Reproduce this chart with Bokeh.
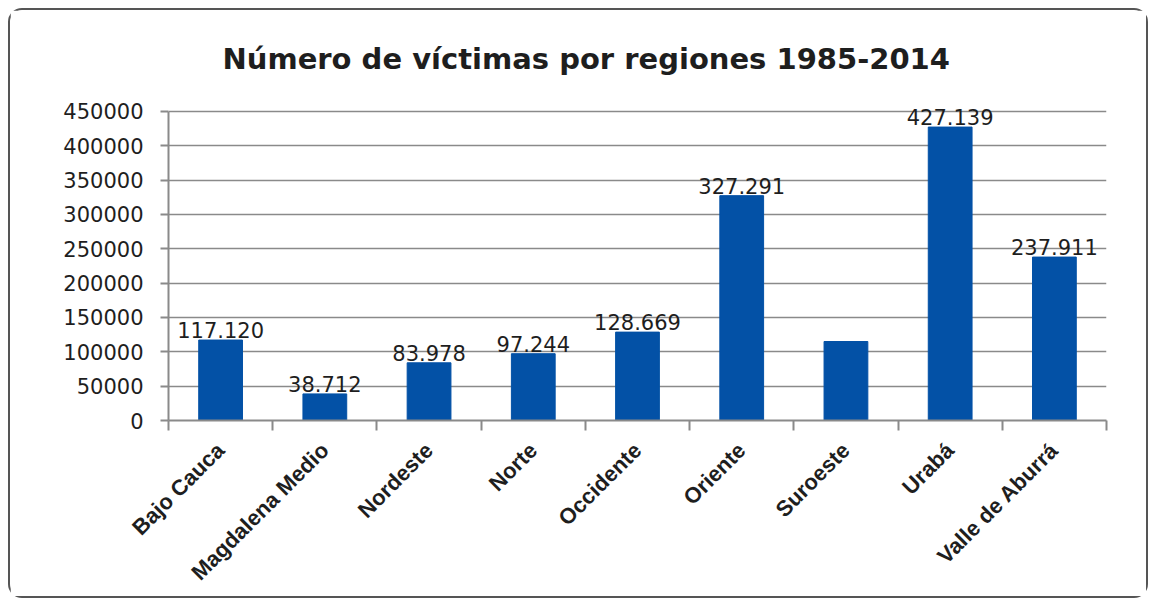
import numpy as np
from bokeh.plotting import figure
from bokeh.models import Range1d, FixedTicker, Title
from bokeh.core.properties import value
from bokeh.embed import file_html
from bokeh.resources import INLINE

title_text = "Número de víctimas por regiones 1985-2014"
categories = ["Bajo Cauca", "Magdalena Medio", "Nordeste", "Norte", "Occidente",
              "Oriente", "Suroeste", "Urabá", "Valle de Aburrá"]
victims = [117120, 38712, 83978, 97244, 128669, 327291, 115000, 427139, 237911]
value_labels = ["117.120", "38.712", "83.978", "97.244", "128.669",
                "327.291", "", "427.139", "237.911"]
y_ticks = [0, 50000, 100000, 150000, 200000, 250000, 300000, 350000, 400000, 450000]

n = len(categories)
centers = np.arange(n) + 0.5
bounds = list(np.arange(n + 1).astype(float))

GRAY = "#8a8a8a"
BAR = "#0351a6"
TXT = "#1e1e1e"

p = figure(width=1140, height=590, output_backend="svg", toolbar_location=None,
           x_range=Range1d(0, n), y_range=Range1d(0, 460000),
           min_border_left=158, min_border_right=44, min_border_top=94,
           min_border_bottom=180)
p.styles = {"border": "2px solid #555555", "border-radius": "14px",
            "box-sizing": "border-box", "margin-left": "8px", "margin-top": "8px"}

p.title = Title(text=title_text, align="left", offset=54, standoff=57,
                text_font="DejaVu Sans", text_font_size="29px",
                text_font_style="bold", text_color=TXT)

p.vbar(x=centers, top=victims, width=0.42, bottom=0, color=BAR)
p.text(x=centers, y=victims, text=value_labels, text_align="center",
       text_baseline="bottom", y_offset=-2, text_font=value("DejaVu Sans"),
       text_font_size="21px", text_color=TXT)

# y axis
p.yaxis.ticker = FixedTicker(ticks=y_ticks)
p.yaxis.bounds = (0, 450000)
p.yaxis.formatter.use_scientific = False
p.yaxis.axis_line_color = GRAY
p.yaxis.axis_line_width = 2
p.yaxis.major_tick_line_color = GRAY
p.yaxis.major_tick_line_width = 2
p.yaxis.major_tick_in = 0
p.yaxis.major_tick_out = 8
p.yaxis.minor_tick_line_color = None
p.yaxis.major_label_standoff = 17
p.yaxis.major_label_text_font = "DejaVu Sans"
p.yaxis.major_label_text_font_size = "21px"
p.yaxis.major_label_text_color = TXT

# x axis
p.xaxis.ticker = FixedTicker(ticks=list(centers), minor_ticks=bounds)
p.xaxis.major_label_overrides = {float(c): cat for c, cat in zip(centers, categories)}
p.xaxis.major_label_orientation = np.pi / 4
p.xaxis.axis_line_color = GRAY
p.xaxis.axis_line_width = 2
p.xaxis.major_tick_line_color = None
p.xaxis.minor_tick_line_color = GRAY
p.xaxis.minor_tick_line_width = 2
p.xaxis.minor_tick_in = 0
p.xaxis.minor_tick_out = 10
p.xaxis.major_label_standoff = 16
p.xaxis.major_label_text_font = "Liberation Sans"
p.xaxis.major_label_text_font_style = "bold"
p.xaxis.major_label_text_font_size = "22px"
p.xaxis.major_label_text_color = TXT

p.xgrid.grid_line_color = None
p.ygrid.ticker = FixedTicker(ticks=y_ticks)
p.ygrid.grid_line_color = GRAY
p.ygrid.grid_line_width = 1.5
p.outline_line_color = None
p.background_fill_color = "white"
p.border_fill_color = "white"

open("out.html", "w").write(file_html(p, INLINE))
